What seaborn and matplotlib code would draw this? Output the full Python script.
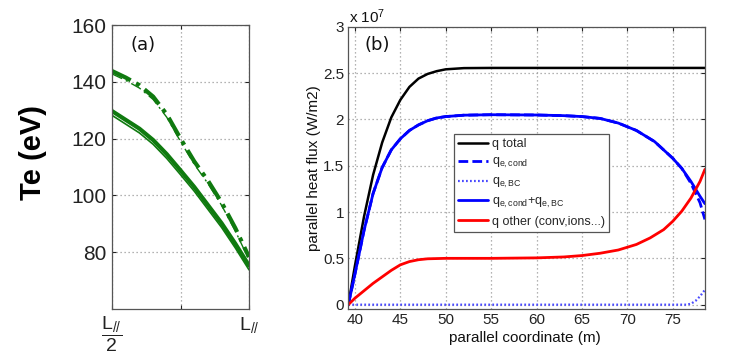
import numpy as np
import pandas as pd
import matplotlib
matplotlib.use("Agg")
import matplotlib.pyplot as plt
import seaborn as sns
from matplotlib.ticker import FuncFormatter

# ---------------- data ----------------
# panel (a): normalized parallel position (L/2 -> L) and Te (eV)
a_x = [0.0, 0.1, 0.2, 0.3, 0.4, 0.5, 0.6, 0.7, 0.8, 0.9, 1.0]
te_solid = [129.7, 126.6, 123.5, 119.5, 114.5, 108.8, 103.0, 96.6, 90.2, 83.0, 75.3]
te_dashdot = [143.8, 141.5, 138.8, 134.8, 128.5, 120.0, 112.0, 105.2, 97.5, 88.5, 78.3]

# panel (b): parallel coordinate (m) and heat fluxes (units of 1e7 W/m2)
s_tot = [39.27, 40.0, 41.0, 42.0, 43.0, 44.0, 45.0, 46.0, 47.0, 48.0, 49.0, 50.0,
         52.0, 55.0, 60.0, 65.0, 70.0, 75.0, 78.54]
q_total = [0.0, 0.42, 0.95, 1.40, 1.75, 2.02, 2.21, 2.35, 2.44, 2.49, 2.52, 2.54,
           2.553, 2.555, 2.555, 2.555, 2.555, 2.555, 2.555]

s_e = [39.27, 40.0, 41.0, 42.0, 43.0, 44.0, 45.0, 46.0, 47.0, 48.0, 49.0, 50.0,
       52.0, 55.0, 60.0, 63.0, 65.0, 67.0, 69.0, 71.0, 73.0, 75.0, 76.0, 77.0, 78.0, 78.54]
q_econd_bc = [0.0, 0.33, 0.80, 1.20, 1.48, 1.67, 1.79, 1.88, 1.94, 1.985, 2.015, 2.03,
              2.045, 2.05, 2.047, 2.04, 2.03, 2.01, 1.96, 1.88, 1.76, 1.58, 1.47, 1.33, 1.17, 1.09]
q_econd = [0.0, 0.33, 0.80, 1.20, 1.48, 1.67, 1.79, 1.88, 1.94, 1.985, 2.015, 2.03,
           2.045, 2.05, 2.047, 2.04, 2.03, 2.01, 1.96, 1.88, 1.76, 1.58, 1.47, 1.31, 1.10, 0.92]

s_bc = [39.27, 50.0, 60.0, 70.0, 76.5, 77.0, 77.5, 78.0, 78.54]
q_ebc = [0.0, 0.0, 0.0, 0.0, 0.0, 0.01, 0.04, 0.09, 0.16]

s_oth = [39.27, 40.0, 41.0, 42.0, 43.0, 44.0, 45.0, 46.0, 47.0, 48.0, 50.0, 55.0,
         60.0, 63.0, 65.0, 67.0, 69.0, 71.0, 72.5, 74.0, 75.0, 76.0, 77.0, 78.0, 78.54]
q_other = [0.0, 0.07, 0.15, 0.23, 0.30, 0.37, 0.43, 0.465, 0.485, 0.495, 0.50, 0.50,
           0.505, 0.515, 0.53, 0.555, 0.59, 0.65, 0.72, 0.81, 0.90, 1.01, 1.15, 1.33, 1.46]

legend_labels = ["q total",
                 r"q$_{\mathregular{e,cond}}$",
                 r"q$_{\mathregular{e,BC}}$",
                 r"q$_{\mathregular{e,cond}}$+q$_{\mathregular{e,BC}}$",
                 "q other (conv,ions...)"]

# ---------------- style ----------------
sns.set_style("white")
plt.rcParams["font.family"] = ["Liberation Sans", "DejaVu Sans"]
plt.rcParams["mathtext.fontset"] = "custom"
plt.rcParams["mathtext.rm"] = "Liberation Sans"
plt.rcParams["mathtext.it"] = "Liberation Sans:italic"

W, H = 748, 357
fig = plt.figure(figsize=(W / 100, H / 100), dpi=100)

def px_axes(l, t, r, b):
    return fig.add_axes([l / W, 1 - b / H, (r - l) / W, (b - t) / H])

grid_kw = dict(color="#9a9a9a", linestyle=(0, (1, 2.2)), linewidth=0.9)

# ---------------- panel (a) ----------------
axa = px_axes(112, 25, 249, 309)
green = "#0f7a0f"
sns.lineplot(x=a_x, y=te_solid, ax=axa, color=green, linewidth=3.0)
sns.lineplot(x=a_x, y=[v - 1.5 for v in te_solid], ax=axa, color=green, linewidth=1.2)
sns.lineplot(x=a_x, y=te_dashdot, ax=axa, color=green, linewidth=3.0,
             linestyle=(0, (5, 1.5, 1, 1.5)))
sns.lineplot(x=a_x, y=[v - 1.0 for v in te_dashdot], ax=axa, color=green, linewidth=1.0,
             linestyle=(0, (8, 3, 1.5, 3)))
axa.set_xlim(0, 1)
axa.set_ylim(60, 160)
axa.set_yticks([80, 100, 120, 140, 160])
axa.set_xticks([0, 0.5, 1.0])
axa.set_xticklabels([r"$\dfrac{\mathregular{L_{//}}}{\mathregular{2}}$", "", r"L$_{//}$"])
axa.tick_params(axis="y", labelsize=15, direction="in", length=3, pad=4,
                right=True, left=True, colors="#222222")
axa.tick_params(axis="x", labelsize=14, direction="in", length=3, pad=4,
                top=True, bottom=True, colors="#222222")
axa.grid(True, **grid_kw)
for sp in axa.spines.values():
    sp.set_color("#555555")
    sp.set_linewidth(0.9)
axa.set_xlabel("")
axa.set_ylabel("")
axa.text(0.23, 0.93, "(a)", transform=axa.transAxes, fontsize=13,
         family="DejaVu Sans", ha="center", va="center", color="#111111")
fig.text(33 / W, 1 - 152 / H, "Te (eV)", rotation=90, ha="center", va="center",
         fontsize=21, fontweight="bold", color="black")

# ---------------- panel (b) ----------------
axb = px_axes(348.3, 26.7, 705, 309.3)
sns.lineplot(x=s_tot, y=q_total, ax=axb, color="black", linewidth=1.8, label=legend_labels[0])
sns.lineplot(x=s_e, y=q_econd, ax=axb, color="#0000ff", linewidth=2.0,
             linestyle=(0, (3.5, 1.5)), label=legend_labels[1])
sns.lineplot(x=s_bc, y=q_ebc, ax=axb, color="#4a4aff", linewidth=1.6,
             linestyle=(0, (0.8, 1.0)), label=legend_labels[2])
sns.lineplot(x=s_e, y=q_econd_bc, ax=axb, color="#0000ff", linewidth=2.0, label=legend_labels[3])
sns.lineplot(x=s_oth, y=q_other, ax=axb, color="#ff0000", linewidth=2.0, label=legend_labels[4])
axb.set_xlim(39.27, 78.55)
axb.set_ylim(-0.05, 3.0)
axb.set_xticks([40, 45, 50, 55, 60, 65, 70, 75])
axb.set_yticks([0, 0.5, 1, 1.5, 2, 2.5, 3])
axb.yaxis.set_major_formatter(FuncFormatter(lambda v, p: "%g" % v))
axb.tick_params(axis="both", labelsize=11, direction="in", length=3,
                top=True, right=True, colors="#222222")
axb.tick_params(axis="y", pad=3)
axb.tick_params(axis="x", pad=3)
axb.grid(True, **grid_kw)
for sp in axb.spines.values():
    sp.set_color("#555555")
    sp.set_linewidth(0.9)
axb.set_xlabel("")
axb.set_ylabel("")
fig.text(525 / W, 1 - 338 / H, "parallel coordinate (m)", ha="center", va="center",
         fontsize=11, color="#111111")
fig.text(314 / W, 1 - 168 / H, "parallel heat flux (W/m2)", rotation=90,
         ha="center", va="center", fontsize=11, color="#111111")
fig.text(349 / W, 1 - 17 / H, r"x 10$^{\mathregular{7}}$", ha="left", va="center",
         fontsize=11, color="#111111")
fig.text(377 / W, 1 - 45 / H, "(b)", ha="center", va="center", fontsize=13,
         family="DejaVu Sans", color="#111111")

leg = axb.legend(loc="upper left", bbox_to_anchor=(453.5 / W, 1 - 134 / H),
                 bbox_transform=fig.transFigure, borderaxespad=0, fontsize=9,
                 frameon=True, fancybox=False, framealpha=1, edgecolor="#555555",
                 handlelength=2.4, handletextpad=0.3, labelspacing=0.45,
                 borderpad=0.35)
leg.get_frame().set_linewidth(0.9)

fig.savefig("out.png", dpi=100)
